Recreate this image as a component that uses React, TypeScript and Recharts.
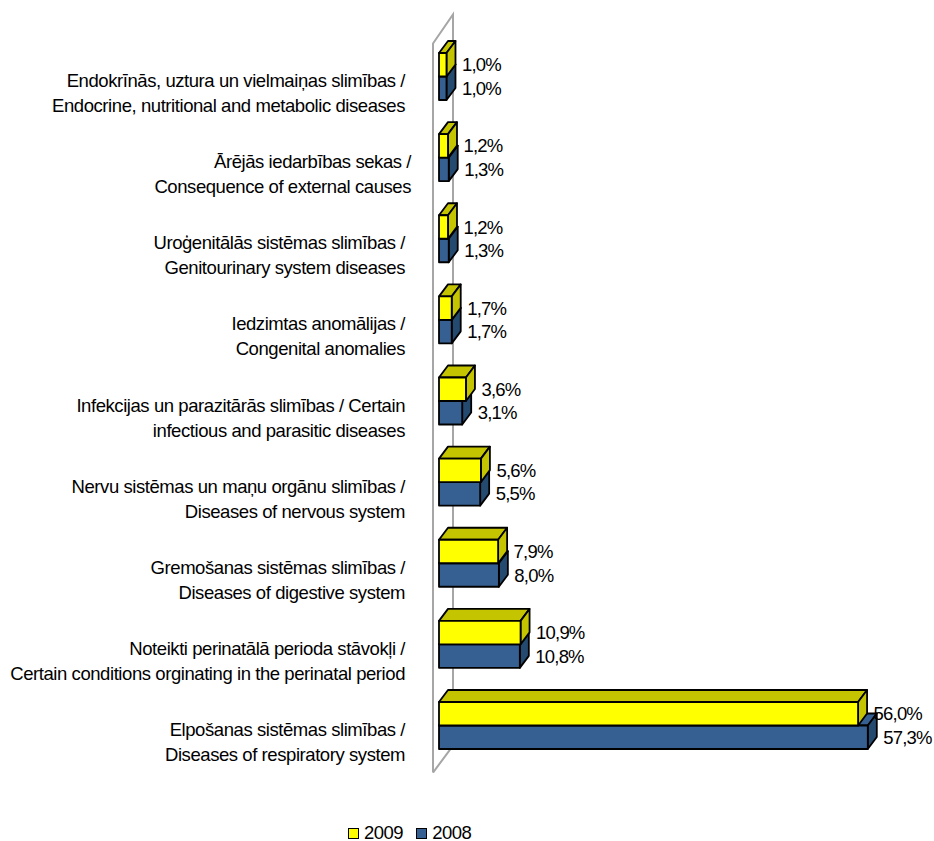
import { BarChart, Bar, XAxis, YAxis, Legend, LabelList, usePlotArea } from "recharts";

const categories = [
  "Endokrīnās, uztura un vielmaiņas slimības /\nEndocrine, nutritional and metabolic diseases",
  "Ārējās iedarbības sekas /\nConsequence of external causes",
  "Uroģenitālās sistēmas slimības /\nGenitourinary system diseases",
  "Iedzimtas anomālijas /\nCongenital anomalies",
  "Infekcijas un parazitārās slimības / Certain\ninfectious and parasitic diseases",
  "Nervu sistēmas un maņu orgānu slimības /\nDiseases of nervous system",
  "Gremošanas sistēmas slimības /\nDiseases of digestive system",
  "Noteikti perinatālā perioda stāvokļi /\nCertain conditions orginating in the perinatal period",
  "Elpošanas sistēmas slimības /\nDiseases of respiratory system",
];
const values2009 = [1.0, 1.2, 1.2, 1.7, 3.6, 5.6, 7.9, 10.9, 56.0];
const values2008 = [1.0, 1.3, 1.3, 1.7, 3.1, 5.5, 8.0, 10.8, 57.3];

const data = categories.map((name, i) => ({
  name,
  v2009: values2009[i],
  v2008: values2008[i],
}));

const FONT = '"Liberation Sans", Arial, sans-serif';
const DX = 9;
const DY = 12;

function Box({ x, y, width, height, fill, top, side }: any) {
  const stroke = { stroke: "#000", strokeWidth: 1.8, strokeLinejoin: "round" as const };
  return (
    <g>
      <polygon
        points={`${x},${y} ${x + DX},${y - DY} ${x + width + DX},${y - DY} ${x + width},${y}`}
        fill={top}
        {...stroke}
      />
      <polygon
        points={`${x + width},${y} ${x + width + DX},${y - DY} ${x + width + DX},${y + height - DY} ${x + width},${y + height}`}
        fill={side}
        {...stroke}
      />
      <rect x={x} y={y} width={width} height={height} fill={fill} {...stroke} />
    </g>
  );
}

// back wall of the 3d chart, behind the bars
function Wall() {
  const plot = usePlotArea();
  if (!plot) return null;
  const left = plot.x - 6;
  const back = plot.x + 14;
  const top = plot.y;
  const bottom = plot.y + plot.height;
  return (
    <polyline
      points={`${left},${bottom + 7} ${left},${top + 8} ${back},${top - 21} ${back},${bottom - 20} ${left},${bottom + 7}`}
      fill="none"
      stroke="#a6a6a6"
      strokeWidth={2}
    />
  );
}

function CategoryTick({ x, y, payload }: any) {
  const lines = String(payload.value).split("\n");
  // the second label sits a little further right in the original
  const right = payload.index === 1 ? 411 : 405;
  return (
    <text x={x} y={y} textAnchor="end" fontFamily={FONT} fontSize={18.5} fill="#000" letterSpacing={-0.43}>
      <tspan x={right} y={y + 11}>{lines[0]}</tspan>
      <tspan x={right} y={y + 36}>{lines[1]}</tspan>
    </text>
  );
}

function LegendContent() {
  const items = [
    { label: "2009", color: "#ffff00" },
    { label: "2008", color: "#376092" },
  ];
  return (
    <div style={{ display: "flex", fontFamily: FONT, fontSize: 18.5, letterSpacing: -0.5, lineHeight: "16px" }}>
      {items.map((it) => (
        <div key={it.label} style={{ display: "flex", alignItems: "center", marginRight: 13 }}>
          <span
            style={{
              width: 9,
              height: 9,
              background: it.color,
              border: "1.5px solid #000",
              marginRight: 5,
              display: "inline-block",
            }}
          />
          {it.label}
        </div>
      ))}
    </div>
  );
}

const pct = (v: any) => Number(v).toFixed(1).replace(".", ",") + "%";

export default function App() {
  return (
    <div style={{ position: "absolute", left: 0, top: 0, width: 934, height: 841 }}>
      <BarChart
        width={934}
        height={841}
        data={data}
        layout="vertical"
        barSize={23.5}
        barGap={-47}
        margin={{ top: 35.5, right: 46, bottom: 59.4, left: 0 }}
      >
        <XAxis type="number" domain={[0, 60]} hide />
        <YAxis
          type="category"
          dataKey="name"
          width={439}
          interval={0}
          axisLine={false}
          tickLine={false}
          tick={<CategoryTick />}
        />
        <Wall />
        <Legend
          height={16}
          content={<LegendContent />}
          wrapperStyle={{ left: 348, top: 825, width: 200, height: 16, bottom: "auto" }}
        />
        <Bar
          dataKey="v2008"
          name="2008"
          isAnimationActive={false}
          shape={(p: any) => <Box {...p} fill="#376092" top="#376092" side="#254a70" />}
        >
          <LabelList
            dataKey="v2008"
            position="right"
            offset={15.5}
            formatter={pct}
            fontFamily={FONT}
            fontSize={18.5}
            letterSpacing={-0.8}
            fill="#000"
          />
        </Bar>
        <Bar
          dataKey="v2009"
          name="2009"
          isAnimationActive={false}
          shape={(p: any) => <Box {...p} fill="#ffff00" top="#c4c400" side="#c4c400" />}
        >
          <LabelList
            dataKey="v2009"
            position="right"
            offset={15.5}
            formatter={pct}
            fontFamily={FONT}
            fontSize={18.5}
            letterSpacing={-0.8}
            fill="#000"
          />
        </Bar>
      </BarChart>
    </div>
  );
}
